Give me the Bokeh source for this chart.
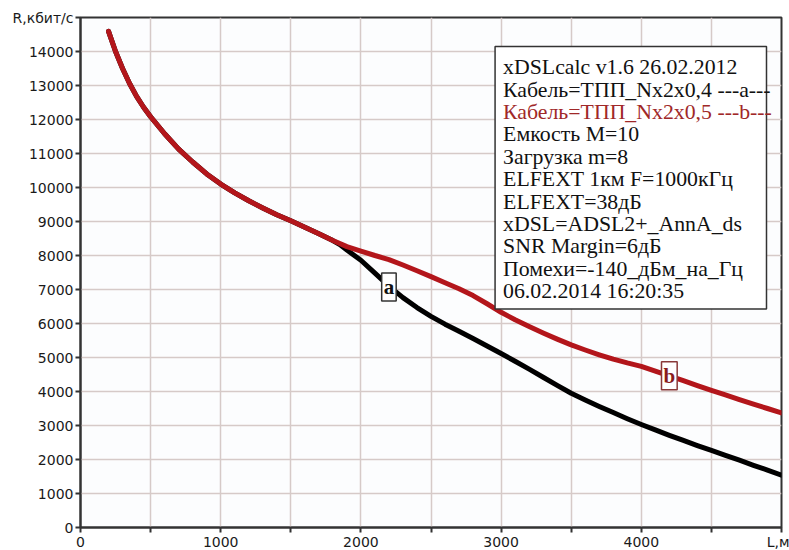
from bokeh.plotting import figure
from bokeh.models import FixedTicker, Label
from bokeh.core.properties import value
from bokeh.embed import file_html
from bokeh.resources import INLINE

# Cable a: TPP Nx2x0,4 (black)
len_a = [200, 250, 300, 350, 400, 450, 500, 600, 700, 800, 900, 1000, 1100,
         1200, 1300, 1400, 1500, 1600, 1700, 1800, 1850, 1900, 2000, 2100,
         2200, 2300, 2400, 2500, 2600, 2700, 2800, 2900, 3000, 3100, 3200,
         3300, 3400, 3500, 3600, 3700, 3800, 3900, 4000, 4100, 4200, 4300,
         4400, 4500, 4600, 4700, 4800, 4900, 5000]
rate_a = [14590, 14000, 13500, 13060, 12680, 12360, 12080, 11580, 11130,
          10750, 10400, 10100, 9840, 9610, 9400, 9200, 9020, 8830, 8640, 8440,
          8320, 8160, 7860, 7480, 7100, 6760, 6470, 6210, 5980, 5770, 5560,
          5340, 5120, 4890, 4660, 4420, 4180, 3950, 3750, 3560, 3380, 3200,
          3030, 2870, 2710, 2560, 2410, 2270, 2120, 1980, 1830, 1690, 1540]

# Cable b: TPP Nx2x0,5 (red)
len_b = [200, 250, 300, 350, 400, 450, 500, 600, 700, 800, 900, 1000, 1100,
         1200, 1300, 1400, 1500, 1600, 1700, 1800, 1900, 2000, 2100, 2200,
         2300, 2400, 2500, 2600, 2700, 2800, 2900, 3000, 3100, 3200, 3300,
         3400, 3500, 3600, 3700, 3800, 3900, 4000, 4100, 4200, 4300, 4400,
         4500, 4600, 4700, 4800, 4900, 5000]
rate_b = [14590, 14000, 13500, 13060, 12680, 12360, 12080, 11580, 11130,
          10750, 10400, 10100, 9840, 9610, 9400, 9200, 9020, 8830, 8640, 8440,
          8260, 8130, 8000, 7880, 7720, 7550, 7380, 7200, 7020, 6820, 6580,
          6330, 6110, 5910, 5720, 5540, 5370, 5220, 5080, 4950, 4840, 4740,
          4600, 4460, 4320, 4170, 4030, 3900, 3760, 3630, 3500, 3370]

x_ticks = [0, 1000, 2000, 3000, 4000, 5000]
x_minor = [500, 1500, 2500, 3500, 4500]
y_ticks = list(range(0, 15001, 1000))

info_lines = [
    "xDSLcalc v1.6 26.02.2012",
    "Кабель=ТПП_Nx2x0,4 ---a---",
    "Кабель=ТПП_Nx2x0,5 ---b---",
    "Емкость M=10",
    "Загрузка m=8",
    "ELFEXT 1км F=1000кГц",
    "ELFEXT=38дБ",
    "xDSL=ADSL2+_AnnA_ds",
    "SNR Margin=6дБ",
    "Помехи=-140_дБм_на_Гц",
    "06.02.2014 16:20:35",
]
info_colors = ["#111111", "#111111", "#a02828"] + ["#111111"] * 8

p = figure(frame_width=701, frame_height=510, x_range=(0, 5000), y_range=(0, 15000),
           output_backend="svg", toolbar_location=None,
           min_border_left=80, min_border_top=17, min_border_right=8, min_border_bottom=0,
           background_fill_color="#fcfdfe", border_fill_color="white")

p.outline_line_color = "#333333"
p.outline_line_width = 2

for ax in (p.xaxis, p.yaxis):
    ax.axis_line_color = "#333333"
    ax.axis_line_width = 2
    ax.major_tick_line_color = "#333333"
    ax.major_tick_line_width = 2
    ax.minor_tick_line_color = "#333333"
    ax.minor_tick_line_width = 2
    ax.major_tick_in = 0
    ax.major_tick_out = 5
    ax.minor_tick_in = 0
    ax.minor_tick_out = 5
    ax.major_label_text_font = "DejaVu Sans"
    ax.major_label_text_font_size = "14px"
    ax.major_label_text_color = "#1a1a1a"
    ax.major_label_standoff = 2

p.xaxis.major_label_standoff = 1
p.xaxis.ticker = FixedTicker(ticks=x_ticks, minor_ticks=x_minor)
p.xaxis.major_label_overrides = {5000: "L,м"}
p.yaxis.ticker = FixedTicker(ticks=y_ticks, minor_ticks=[])
p.yaxis.major_label_overrides = {15000: "R,кбит/с"}

p.xgrid.ticker = FixedTicker(ticks=x_ticks, minor_ticks=x_minor)
p.ygrid.ticker = FixedTicker(ticks=y_ticks, minor_ticks=[])
for g in (p.xgrid, p.ygrid):
    g.grid_line_color = "#d6cac8"
    g.grid_line_width = 1.5
p.xgrid.minor_grid_line_color = "#d6cac8"
p.xgrid.minor_grid_line_width = 1.5

p.line(len_a, rate_a, line_color="#000000", line_width=5, line_cap="round", line_join="round")
p.line(len_b, rate_b, line_color="#b3161b", line_width=5, line_cap="round", line_join="round")

# info box
p.quad(left=[2957], right=[4893], bottom=[6430], top=[14150],
       fill_color="white", line_color="#333333", line_width=1.5)
y0 = 13530
step = 657
p.text(x=[3014] * len(info_lines), y=[y0 - i * step for i in range(len(info_lines))],
       text=info_lines, text_color=info_colors, text_font=value("Liberation Serif"),
       text_font_size="21.8px", text_baseline="middle", text_align="left")

p.add_layout(Label(x=2200, y=7070, text="a", text_font="Liberation Serif",
                   text_font_style="bold", text_font_size="21px", text_color="#111111",
                   text_align="center", text_baseline="middle",
                   background_fill_color="white", border_line_color="#333333",
                   border_line_width=1.5, padding=2))
p.add_layout(Label(x=4200, y=4460, text="b", text_font="Liberation Serif",
                   text_font_style="bold", text_font_size="21px", text_color="#8a1c1c",
                   text_align="center", text_baseline="middle",
                   background_fill_color="white", border_line_color="#8a3a3a",
                   border_line_width=1.5, padding=2))

open("out.html", "w").write(file_html(p, INLINE))
